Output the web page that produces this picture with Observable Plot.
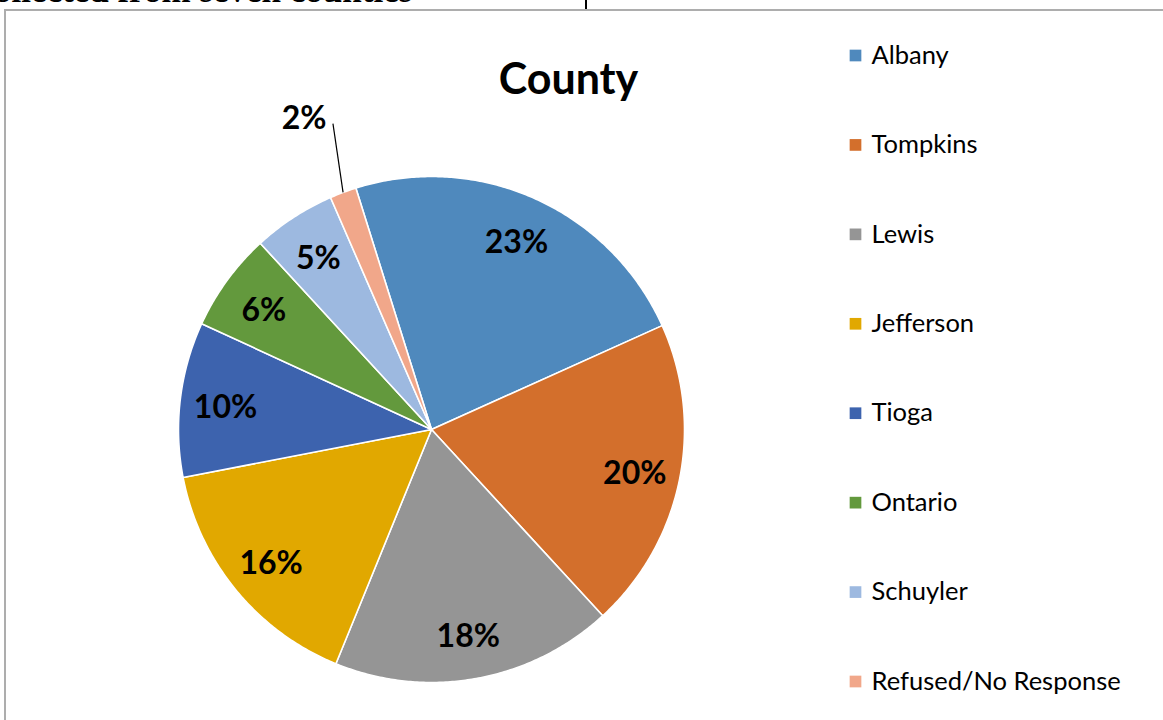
<!DOCTYPE html>
<html>
<head>
<meta charset="utf-8">
<script src="https://cdn.jsdelivr.net/npm/d3@7"></script>
<script src="https://cdn.jsdelivr.net/npm/@observablehq/plot@0.6"></script>
<style>
  html, body { margin: 0; padding: 0; background: #fff; }
  #wrap { position: relative; width: 1163px; height: 720px; overflow: hidden; }
  #frame { position: absolute; left: 4px; top: 9px; width: 1200px; height: 800px;
           border-left: 2px solid #ADADAD; border-top: 2px solid #ADADAD; }
  #cut { position: absolute; left: -6px; top: -27px; font: bold 35px "Liberation Serif", serif;
         line-height: 35px; color: #000; white-space: nowrap; }
  #vbar { position: absolute; left: 585px; top: 0; width: 2px; height: 9px; background: #000; }
  #chart { position: absolute; left: 0; top: 0; }
</style>
</head>
<body>
<div id="wrap">
  <div id="cut">ollected from seven counties</div>
  <div id="vbar"></div>
  <div id="frame"></div>
  <div id="chart"></div>
</div>
<script>
// ---- data ----
const categories = ["Albany", "Tompkins", "Lewis", "Jefferson", "Tioga", "Ontario", "Schuyler", "Refused/No Response"];
const shares = [23.1, 19.9, 18.0, 15.8, 9.9, 6.3, 5.3, 1.7];
const colors = ["#4F89BD", "#D36F2C", "#959595", "#E1A800", "#3D63AE", "#63993D", "#9DB9E0", "#F1A78A"];
const title = "County";

// ---- layout constants ----
const W = 1163, H = 720;
const CX = 431, CY = 429, R = 253;
const START = -17.4; // degrees, clockwise from 12 o'clock
const fx = px => (px - CX) / R;
const fy = py => (CY - py) / R;

// ---- build slices ----
const total = d3.sum(shares);
let acc = START;
const slices = categories.map((c, i) => {
  const a0 = acc, a1 = acc + shares[i] / total * 360;
  acc = a1;
  return {cat: c, value: shares[i], a0, a1, mid: (a0 + a1) / 2};
});
const pt = (deg, r) => [r * Math.sin(deg * Math.PI / 180), r * Math.cos(deg * Math.PI / 180)];
const polyPts = [];
for (const s of slices) {
  polyPts.push({cat: s.cat, x: 0, y: 0});
  const n = Math.max(2, Math.ceil((s.a1 - s.a0) / 0.5));
  for (let k = 0; k <= n; k++) {
    const a = s.a0 + (s.a1 - s.a0) * k / n;
    const [x, y] = pt(a, 1);
    polyPts.push({cat: s.cat, x, y});
  }
}

// labels
const labels = slices.map(s => {
  const outside = s.value < 3;
  const [x, y] = outside ? pt(s.mid - 1.6, 1.34) : pt(s.mid, 0.82);
  return {cat: s.cat, x, y, text: Math.round(s.value) + "%"};
});
const leaders = slices.filter(s => s.value < 3).map(s => {
  const [x1, y1] = pt(s.mid, 1.0);
  const [x2, y2] = pt(s.mid + 2.6, 1.27);
  return {x1, y1, x2, y2};
});

// legend
const legendRows = categories.map((c, i) => ({cat: c, y: fy(55 + i * 89.43)}));

const plot = Plot.plot({
  width: W, height: H,
  x: {domain: [-1, 1], range: [CX - R, CX + R], axis: null},
  y: {domain: [-1, 1], range: [CY + R, CY - R], axis: null},
  color: {domain: categories, range: colors},
  style: {background: "transparent", overflow: "visible"},
  marks: [
    Plot.line(polyPts, {x: "x", y: "y", z: "cat", fill: "cat", stroke: "white", strokeWidth: 1.6, curve: "linear-closed"}),
    Plot.link(leaders, {x1: "x1", y1: "y1", x2: "x2", y2: "y2", stroke: "black", strokeWidth: 1.2}),
    Plot.text(labels, {x: "x", y: "y", text: "text", dy: 3, fontSize: 32, fontWeight: "bold", fill: "black",
      fontFamily: "Lato, 'Noto Sans', sans-serif"}),
    Plot.text([title], {x: fx(568), y: fy(80), text: d => d, fontSize: 43, fontWeight: "bold", fill: "black",
      fontFamily: "Lato, 'Noto Sans', sans-serif"}),
    Plot.dot(legendRows, {x: fx(855), y: "y", fill: "cat", symbol: "square", r: 6.6, stroke: null}),
    Plot.text(legendRows, {x: fx(871), y: "y", text: "cat", textAnchor: "start", fontSize: 25.5, fill: "black",
      fontFamily: "Lato, 'Noto Sans', sans-serif"})
  ]
});
document.getElementById("chart").appendChild(plot);
</script>
</body>
</html>
